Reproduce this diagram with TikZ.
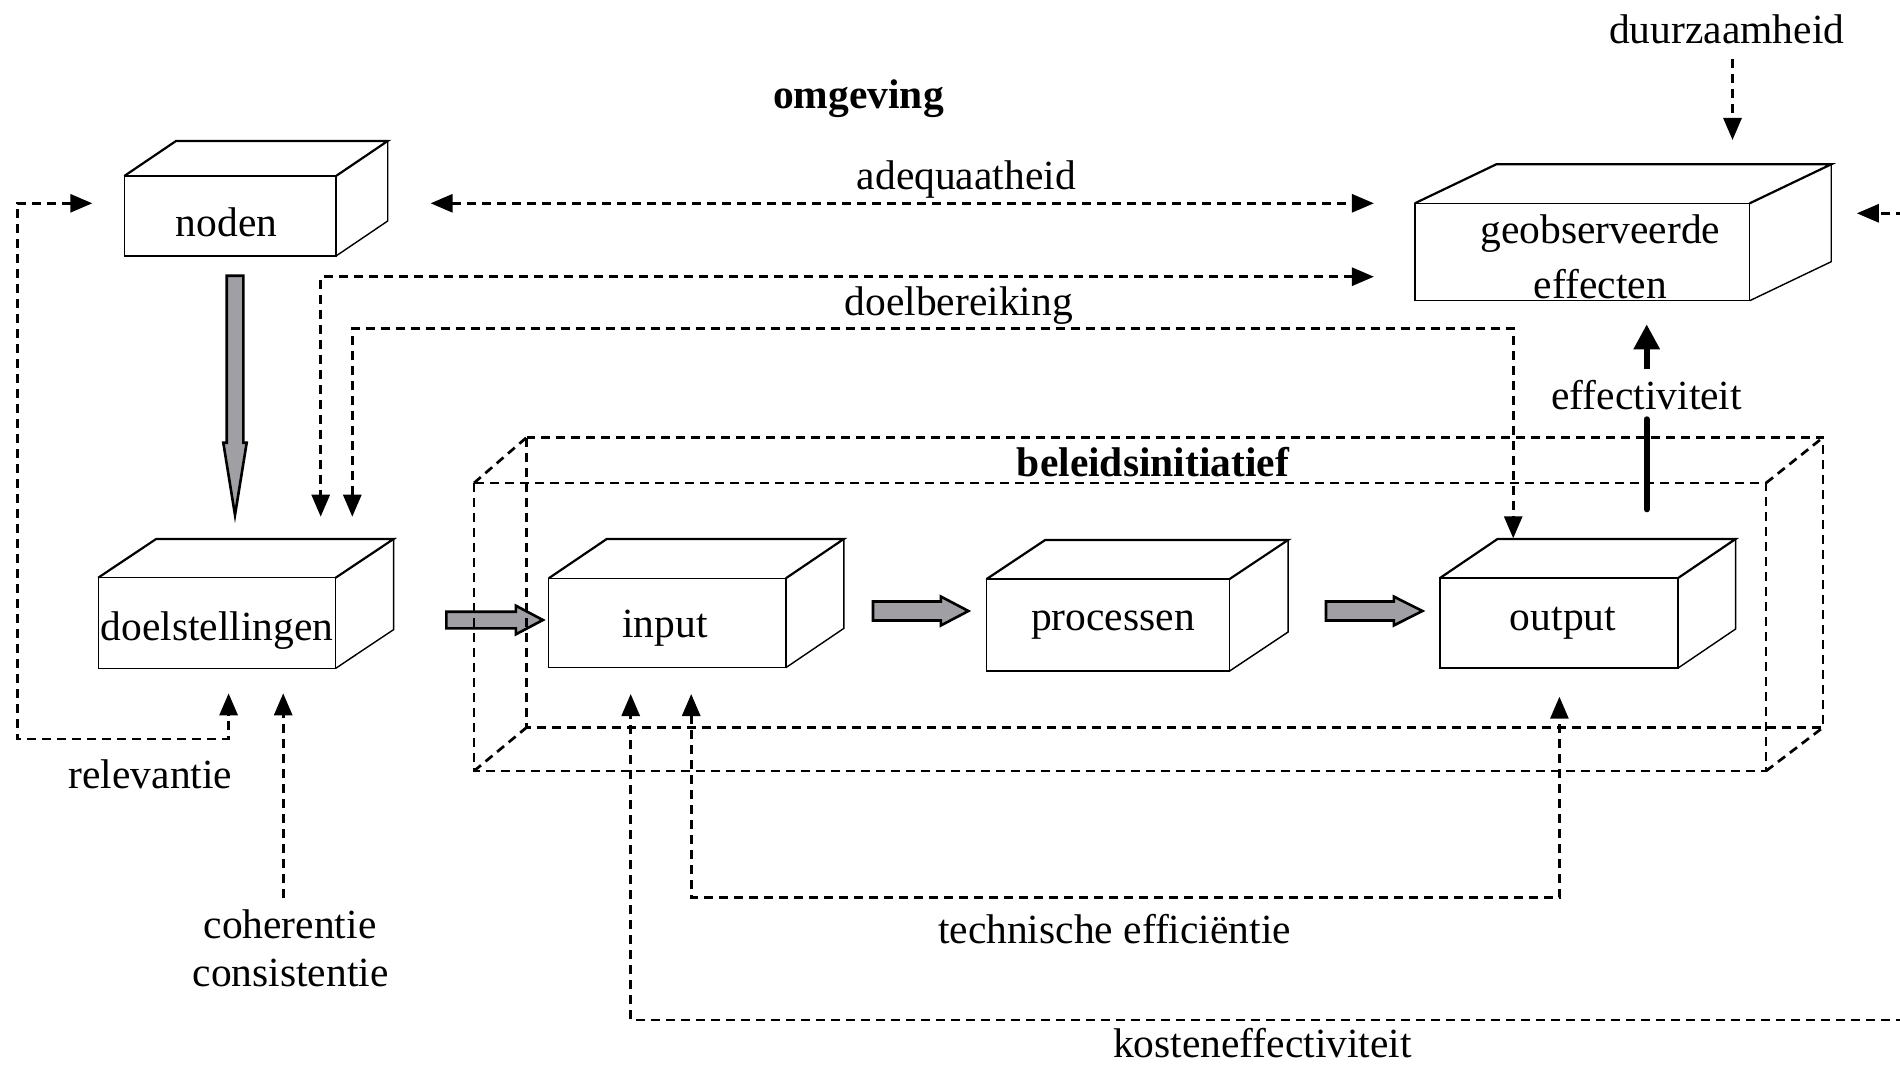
\documentclass[tikz,border=0pt]{standalone}
\usepackage{fontspec}
\setmainfont{Liberation Serif}
\usetikzlibrary{arrows.meta,calc}
\definecolor{arrowgrey}{RGB}{160,160,164}
\newcommand{\cubebox}[7]{%
  \node[frontface, minimum width=#4*0.5pt, minimum height=#5*0.5pt] (#1) at (#2,#3) {};
  \draw[topface] (#1.north west) -- ++(#6,#7) -- ++(#4,0) -- (#1.north east);
  \draw[sideface] (#1.north east) ++(#6,#7) -- ++(0,#5) -- (#1.south east);
}
\newcommand{\blockR}[5]{%
  \draw[blockarrow] ($(#1)+(0,-#3)$) -- ($(#2)+(-#5,-#3)$) -- ($(#2)+(-#5,-#4)$) -- (#2)
    -- ($(#2)+(-#5,#4)$) -- ($(#2)+(-#5,#3)$) -- ($(#1)+(0,#3)$) -- cycle;
}
\begin{document}
\begin{tikzpicture}[x=0.5pt,y=-0.5pt,
  >={Triangle[length=11pt,width=9pt]},
  every node/.style={font=\fontsize{20.75pt}{24pt}\selectfont, inner sep=0pt},
  frontface/.style={draw, line width=0.7pt, outer sep=0pt, fill=white},
  topface/.style={line width=1.1pt, line join=miter},
  sideface/.style={line width=0.7pt},
  dashline/.style={line width=1.45pt, dash pattern=on 4.5pt off 3pt},
  wire/.style={line width=1.35pt, dash pattern=on 4.5pt off 3pt},
  blockarrow/.style={draw, line width=1.3pt, fill=arrowgrey, line join=miter},
  lbl/.style={anchor=base},
  boldlbl/.style={anchor=base, font=\fontsize{20.75pt}{24pt}\selectfont\bfseries}]
\useasboundingbox (0,0) rectangle (1900,1065);

% boxes
\cubebox{noden}{230.15}{216}{211.7}{80}{51.7}{-35}
\cubebox{doel}{216.95}{623}{237.5}{90.6}{57.9}{-38.7}
\cubebox{input}{667.25}{623}{237.1}{89.4}{58}{-39.3}
\cubebox{proc}{1108.15}{625}{242.9}{92}{58.5}{-39}
\cubebox{output}{1559.05}{623}{238.1}{90}{57.5}{-39}
\cubebox{geo}{1582.25}{252}{334.9}{97.4}{81.5}{-39}

% box texts
\node[lbl] (nodenT) at (226.7,236.7) {noden};
\node[lbl] (doelT) at (217,640) {doelstellingen};
\node[lbl] (inputT) at (665,637.3) {input};
\node[lbl] (procT) at (1113,630) {processen};
\node[lbl] (outputT) at (1563,630) {output};
\node[lbl] (geoT1) at (1600.4,243) {geobserveerde};
\node[lbl] (geoT2) at (1600.4,298) {effecten};

% grey block arrows
\coordinate (nodA) at (235,275.7);
\coordinate (nodB) at (235,515);
\draw[blockarrow] ($(nodA)+(-8.3,0)$) -- ($(nodB)+(-8.3,-72.3)$) -- ($(nodB)+(-11.7,-72.3)$) -- (nodB)
  -- ($(nodB)+(11.7,-72.3)$) -- ($(nodB)+(8.3,-72.3)$) -- ($(nodA)+(8.3,0)$) -- cycle;
\coordinate (a1s) at (446.4,620);  \coordinate (a1e) at (542.9,620);
\coordinate (a2s) at (873,611);    \coordinate (a2e) at (968.4,611);
\coordinate (a3s) at (1326,611);   \coordinate (a3e) at (1422.5,611);
\blockR{a1s}{a1e}{8.3}{14.3}{27}
\blockR{a2s}{a2e}{9.5}{14.5}{27.6}
\blockR{a3s}{a3e}{9.5}{14.4}{28.7}

% outer dashed box (beleidsinitiatief)
\coordinate (fTL) at (474,483);   \coordinate (fBR) at (1766,771);
\coordinate (bTL) at (526.5,437.5); \coordinate (bBR) at (1823,727.5);
\draw[wire] (fTL) rectangle (fBR);
\draw[wire] (bTL) rectangle (bBR);
\draw[wire] (fTL) -- (bTL);
\draw[wire] (fTL -| fBR) -- (bTL -| bBR);
\draw[wire] (fTL |- fBR) -- (bTL |- bBR);
\draw[wire] (fBR) -- (bBR);

% effectiviteit
\coordinate (effA) at (1646.7,509.3);
\coordinate (effB) at (1646.7,419.3);
\coordinate (effC) at (1646.7,369.3);
\coordinate (effD) at (1646.7,324.3);
\draw[line width=3pt, line cap=round] (effA) -- (effB);
\draw[line width=3pt, -{Triangle[length=12.5pt,width=12.5pt]}] (effC) -- (effD);

% dashed connectors
\coordinate (adqL) at (430.6,203.3);  \coordinate (adqR) at (1373.9,203.3);
\draw[dashline,<->] (adqL) -- (adqR);

\coordinate (dbA1) at (1373.9,276.7); \coordinate (dbA2) at (320.7,276.7); \coordinate (dbA3) at (320.7,516.7);
\draw[dashline,<->] (dbA1) -- (dbA2) -- (dbA3);

\coordinate (dbB1) at (352.3,516.7); \coordinate (dbB2) at (352.3,328.8);
\coordinate (dbB3) at (1513.2,328.8); \coordinate (dbB4) at (1513.2,538.3);
\draw[dashline,<->] (dbB1) -- (dbB2) -- (dbB3) -- (dbB4);

\coordinate (rel1) at (92.3,203.3); \coordinate (rel2) at (17.1,203.3);
\coordinate (rel3) at (17.1,739); \coordinate (rel4) at (228.6,739); \coordinate (rel5) at (228.6,693.3);
\draw[dashline,<->] (rel1) -- (rel2) -- (rel3) -- (rel4) -- (rel5);

\coordinate (coh1) at (283.2,898.3); \coordinate (coh2) at (283.2,693.3);
\draw[dashline,->] (coh1) -- (coh2);

\coordinate (duu1) at (1732.5,59); \coordinate (duu2) at (1732.5,140);
\draw[dashline,->] (duu1) -- (duu2);

\coordinate (rgt1) at (1905,213.3); \coordinate (rgt2) at (1856.8,213.3);
\draw[dashline,->] (rgt1) -- (rgt2);

\coordinate (te1) at (691.2,694); \coordinate (te2) at (691.2,897.3);
\coordinate (te3) at (1559.4,897.3); \coordinate (te4) at (1559.4,696.7);
\draw[dashline,<->] (te1) -- (te2) -- (te3) -- (te4);

\coordinate (ke1) at (1905,1020); \coordinate (ke2) at (630.7,1020); \coordinate (ke3) at (630.7,694);
\draw[dashline,->] (ke1) -- (ke2) -- (ke3);

% labels
\node[boldlbl] (omg) at (858.5,108.3) {omgeving};
\node[boldlbl] (bel) at (1153,476.7) {beleidsinitiatief};
\node[lbl] (adq) at (966.3,189.3) {adequaatheid};
\node[lbl] (dbr) at (958.7,315) {doelbereiking};
\node[lbl] (duu) at (1726.7,43.3) {duurzaamheid};
\node[lbl] (eff) at (1646.7,409.3) {effectiviteit};
\node[lbl] (rel) at (150.5,788.3) {relevantie};
\node[lbl] (coh) at (290,938.3) {coherentie};
\node[lbl] (con) at (290.6,986.7) {consistentie};
\node[lbl] (tech) at (1114.5,943) {technische efficiëntie};
\node[lbl] (kost) at (1262.5,1057) {kosteneffectiviteit};
\end{tikzpicture}
\end{document}
